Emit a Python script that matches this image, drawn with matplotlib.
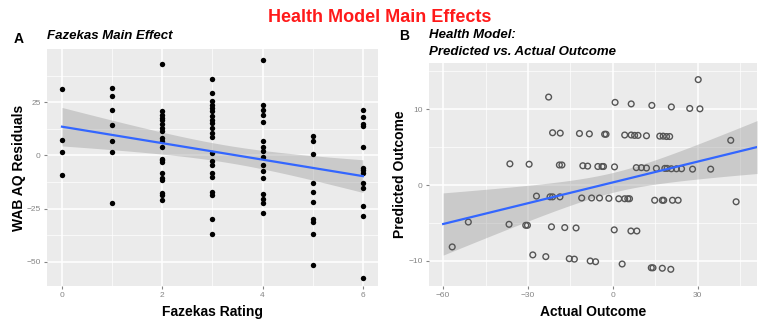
import numpy as np
import matplotlib
matplotlib.use("Agg")
import matplotlib.pyplot as plt

plt.rcParams['font.family'] = ['Liberation Sans', 'DejaVu Sans']

# panel A: WAB AQ residuals by Fazekas rating
faz_0 = [31.3, 7.1, 1.7, -9.0]
faz_1 = [31.6, 28.0, 21.4, 14.5, 6.9, 1.4, -22.5]
faz_2 = [42.8, 20.8, 19.2, 17.6, 16.5, 14.9, 12.9, 11.3, 8.2, 6.6, 4.2,
         -1.5, -2.3, -3.0, -8.0, -10.7, -11.5, -17.8, -18.5, -21.0]
faz_3 = [35.7, 29.2, 25.5, 23.9, 22.3, 20.8, 18.4, 16.8, 15.2, 12.9, 10.5,
         8.5, 1.1, -2.5, -4.4, -8.3, -9.9, -17.3, -18.5, -29.9, -36.7]
faz_4 = [44.7, 23.6, 21.5, 18.9, 15.7, 6.6, 4.2, 2.2, -0.6, -4.4, -7.2,
         -10.7, -18.2, -20.6, -22.5, -27.0]
faz_5 = [9.3, 6.9, 0.7, -13.1, -17.0, -21.7, -30.0, -31.1, -37.0, -51.4]
faz_6 = [21.4, 18.1, 14.8, 13.7, 3.9, -6.0, -6.8, -8.3, -13.1, -15.1,
         -23.6, -28.3, -57.4]
faz_groups = [faz_0, faz_1, faz_2, faz_3, faz_4, faz_5, faz_6]

# panel B: predicted vs actual outcome
actual = [-22.7, 30.2, 0.8, 6.5, 13.8, 20.7, 27.2, 30.8,
          -21.3, -18.6, -11.8, -8.3, -2.9, -2.4, 4.2, 6.5, 7.7, 8.9, 11.9,
          16.6, 17.8, 19.0, 20.1, 41.7,
          -36.4, -29.6, -18.9, -18.0, -10.6, -8.9, -5.3, -3.8, -3.3, 0.6,
          8.3, 10.1, 11.9, 15.4, 18.4, 19.2, 20.7, 22.5, 24.3, 28.2, 34.6,
          -27.0, -22.2, -21.3, -18.7, -11.0, -7.5, -4.7, -1.4, 2.1, 4.2,
          5.3, 5.9, 14.8, 17.5, 18.0, 21.1, 23.1, 43.6,
          -51.1, -36.7, -30.8, -30.2, -21.7, -17.0, -13.0, 0.5, 6.4, 8.5,
          -56.8,
          -28.3, -23.7, -15.4, -13.6, -8.0, -6.1, 3.3, 13.6, 14.2, 17.5, 20.5]
predicted = [11.6, 13.9, 10.9, 10.7, 10.5, 10.3, 10.1, 10.05,
             6.9, 6.85, 6.8, 6.75, 6.7, 6.7, 6.6, 6.6, 6.55, 6.55, 6.5,
             6.45, 6.45, 6.4, 6.4, 5.9,
             2.8, 2.75, 2.65, 2.65, 2.55, 2.5, 2.45, 2.45, 2.45, 2.4,
             2.3, 2.3, 2.25, 2.2, 2.2, 2.2, 2.15, 2.15, 2.15, 2.1, 2.1,
             -1.45, -1.55, -1.55, -1.55, -1.7, -1.7, -1.7, -1.75, -1.8, -1.8,
             -1.8, -1.8, -2.0, -2.0, -2.0, -2.0, -2.0, -2.2,
             -4.87, -5.17, -5.3, -5.3, -5.5, -5.6, -5.65, -5.9, -6.05, -6.05,
             -8.15,
             -9.2, -9.43, -9.7, -9.76, -10.0, -10.1, -10.4, -10.9, -10.9,
             -10.96, -11.1]

BG = '#EBEBEB'
TICK_C = '#858585'


def lm_band(x, y, xs, t=1.98):
    # ordinary least squares with 95% confidence band of the mean
    x = np.asarray(x, float)
    y = np.asarray(y, float)
    b, a = np.polyfit(x, y, 1)
    resid = y - (a + b * x)
    n = len(x)
    s = np.sqrt(np.sum(resid ** 2) / (n - 2))
    sxx = np.sum((x - x.mean()) ** 2)
    fit = a + b * xs
    se = s * np.sqrt(1.0 / n + (xs - x.mean()) ** 2 / sxx)
    return fit, fit - t * se, fit + t * se


def gg_axes(ax, major_x, minor_x, major_y, minor_y):
    ax.set_facecolor(BG)
    for sp in ax.spines.values():
        sp.set_visible(False)
    for v in minor_x:
        ax.axvline(v, color='white', lw=0.5, zorder=0)
    for v in major_x:
        ax.axvline(v, color='white', lw=1.1, zorder=0)
    for v in minor_y:
        ax.axhline(v, color='white', lw=0.5, zorder=0)
    for v in major_y:
        ax.axhline(v, color='white', lw=1.1, zorder=0)
    ax.set_xticks(major_x)
    ax.set_yticks(major_y)
    ax.tick_params(colors=TICK_C, labelsize=6, length=2.5, width=0.8, pad=2)


fig = plt.figure(figsize=(7.6, 3.22), dpi=100)

# ---- panel A
ax1 = fig.add_axes([0.0618, 0.1118, 0.4355, 0.736])
gg_axes(ax1, [0, 2, 4, 6], [1, 3, 5], [25, 0, -25, -50], [37.5, 12.5, -12.5, -37.5])
fx, fy = [], []
for rating, vals in enumerate(faz_groups):
    fx += [rating] * len(vals)
    fy += vals
ax1.scatter(fx, fy, s=15, color='black', zorder=3, linewidths=0)
xs = np.linspace(0, 6, 100)
fit, lo, hi = lm_band(fx, fy, xs)
ax1.fill_between(xs, lo, hi, color='#999999', alpha=0.4, lw=0, zorder=2)
ax1.plot(xs, fit, color='#3366FF', lw=1.6, zorder=4)
ax1.set_xlim(-0.3, 6.3)
ax1.set_ylim(-61.3, 50)
ax1.set_xlabel('Fazekas Rating', fontsize=10, fontweight='bold', labelpad=4)
ax1.set_ylabel('WAB AQ Residuals', fontsize=10, fontweight='bold', labelpad=0)

# ---- panel B
ax2 = fig.add_axes([0.5645, 0.1118, 0.4316, 0.6916])
gg_axes(ax2, [-60, -30, 0, 30], [-45, -15, 15, 45], [10, 0, -10], [15, 5, -5])
ax2.scatter(actual, predicted, s=17, facecolors='none', edgecolors='#555555',
            linewidths=1.0, zorder=3)
xs2 = np.linspace(-60, 51, 100)
fit2, lo2, hi2 = lm_band(actual, predicted, xs2)
ax2.fill_between(xs2, lo2, hi2, color='#999999', alpha=0.4, lw=0, zorder=2)
ax2.plot(xs2, fit2, color='#3366FF', lw=1.6, zorder=4)
ax2.set_xlim(-65, 51)
ax2.set_ylim(-13.3, 16.05)
ax2.set_xlabel('Actual Outcome', fontsize=10, fontweight='bold', labelpad=4)
ax2.set_ylabel('Predicted Outcome', fontsize=10, fontweight='bold', labelpad=1)

# titles
fig.text(0.5, 0.945, 'Health Model Main Effects', color='#FF1A1A', fontsize=13,
         fontweight='bold', ha='center', va='center')
fig.text(0.018, 0.88, 'A', fontsize=10, fontweight='bold', va='center')
fig.text(0.0618, 0.888, 'Fazekas Main Effect', fontsize=9.5, fontweight='bold',
         style='italic', va='center')
fig.text(0.525, 0.888, 'B', fontsize=10, fontweight='bold', va='center')
fig.text(0.5645, 0.89, 'Health Model:', fontsize=9.5, fontweight='bold',
         style='italic', va='center')
fig.text(0.5645, 0.838, 'Predicted vs. Actual Outcome', fontsize=9.5,
         fontweight='bold', style='italic', va='center')

fig.savefig('out.png', dpi=100)
